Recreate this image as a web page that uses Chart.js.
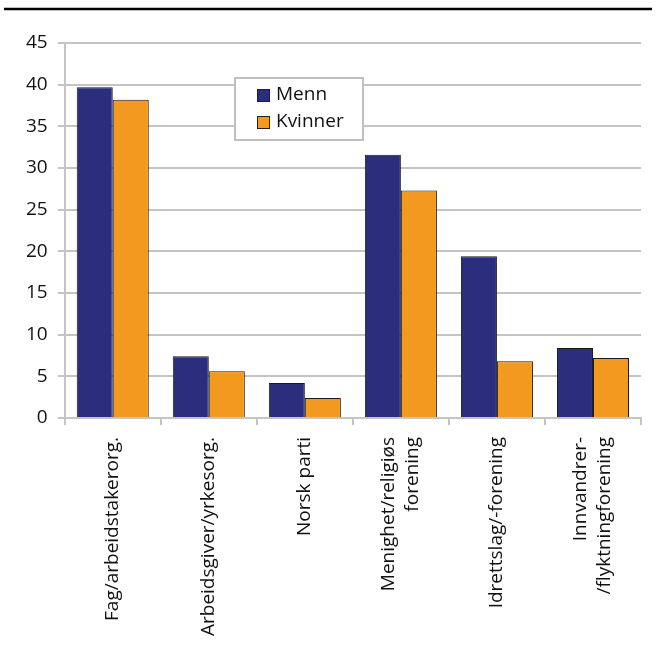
<!DOCTYPE html>
<html>
<head>
<meta charset="utf-8">
<script src="https://cdn.jsdelivr.net/npm/chart.js@4/dist/chart.umd.min.js"></script>
<style>
  html, body { margin: 0; padding: 0; background: #fff; }
  #wrap { width: 656px; height: 652px; position: relative; }
</style>
</head>
<body>
<div id="wrap"><canvas id="chart" width="656" height="652"></canvas></div>
<script>
// Data
const categories = [
  "Fag/arbeidstakerorg.",
  "Arbeidsgiver/yrkesorg.",
  "Norsk parti",
  ["Menighet/religiøs", "forening"],
  "Idrettslag/-forening",
  ["Innvandrer-", "/flyktningforening"],
];
const menn = [39.7, 7.4, 4.2, 31.6, 19.4, 8.4];
const kvinner = [38.2, 5.6, 2.4, 27.3, 6.8, 7.2];
const yTicks = [0, 5, 10, 15, 20, 25, 30, 35, 40, 45];

const FONT = "'Open Sans', 'DejaVu Sans', sans-serif";
const GRID = "#c4c4c4";
const X_FONT = 19;

// top rule across the figure
const topRule = {
  id: "topRule",
  afterDraw(chart) {
    const ctx = chart.ctx;
    ctx.save();
    ctx.strokeStyle = "#000";
    ctx.lineWidth = 2.5;
    ctx.beginPath();
    ctx.moveTo(4, 9);
    ctx.lineTo(652, 9);
    ctx.stroke();
    ctx.restore();
  },
};

// rotated category labels, multi-line ones centred on the tick
const xLabels = {
  id: "xLabels",
  afterDraw(chart) {
    const sx = chart.scales.x;
    const ctx = chart.ctx;
    const top = sx.top + 7 + 12;
    ctx.save();
    ctx.font = X_FONT + "px " + FONT;
    ctx.fillStyle = "#111";
    ctx.textAlign = "right";
    ctx.textBaseline = "middle";
    chart.data.labels.forEach((lab, i) => {
      const lines = Array.isArray(lab) ? lab : [lab];
      const x = sx.getPixelForTick(i);
      ctx.save();
      ctx.translate(x, top);
      ctx.rotate(-Math.PI / 2);
      lines.forEach((ln, j) => {
        ctx.fillText(ln, 0, (j - (lines.length - 1) / 2) * 24);
      });
      ctx.restore();
    });
    ctx.restore();
  },
};

// boxed legend sitting inside the plot
const boxLegend = {
  id: "boxLegend",
  afterDatasetsDraw(chart) {
    const ctx = chart.ctx;
    const x = 235, y = 78, w = 128, h = 62;
    ctx.save();
    ctx.fillStyle = "#fff";
    ctx.fillRect(x, y, w, h);
    ctx.strokeStyle = "#c0c0c0";
    ctx.lineWidth = 2;
    ctx.strokeRect(x, y, w, h);
    ctx.font = "19px " + FONT;
    ctx.textBaseline = "middle";
    chart.data.datasets.forEach((ds, i) => {
      const cy = y + 17 + i * 27;
      ctx.fillStyle = ds.backgroundColor;
      ctx.fillRect(x + 22, cy - 6, 13, 13);
      ctx.strokeStyle = "#222";
      ctx.lineWidth = 1;
      ctx.strokeRect(x + 22.5, cy - 5.5, 12, 12);
      ctx.fillStyle = "#111";
      ctx.fillText(ds.label, x + 41, cy);
    });
    ctx.restore();
  },
};

new Chart(document.getElementById("chart"), {
  type: "bar",
  data: {
    labels: categories,
    datasets: [
      { label: "Menn", data: menn, backgroundColor: "#2b2d7d", borderColor: "#1a1a1a", borderWidth: 1 },
      { label: "Kvinner", data: kvinner, backgroundColor: "#f4991f", borderColor: "#1a1a1a", borderWidth: 1 },
    ],
  },
  options: {
    responsive: false,
    animation: false,
    devicePixelRatio: 1,
    layout: { padding: { top: 43, right: 15, left: 16, bottom: 4 } },
    datasets: { bar: { categoryPercentage: 0.75, barPercentage: 1 } },
    plugins: {
      legend: { display: false },
      tooltip: { enabled: false },
    },
    scales: {
      x: {
        grid: { offset: true, drawOnChartArea: false, color: GRID, lineWidth: 2, tickLength: 7 },
        border: { color: GRID, width: 2 },
        ticks: {
          // space is reserved here, text itself is drawn by xLabels
          color: "rgba(0,0,0,0)",
          font: { family: FONT, size: X_FONT },
          maxRotation: 90,
          minRotation: 90,
          autoSkip: false,
          padding: 12,
        },
      },
      y: {
        min: 0,
        max: 45,
        afterBuildTicks: (axis) => { axis.ticks = yTicks.map((v) => ({ value: v })); },
        grid: { color: GRID, lineWidth: 2, tickLength: 7 },
        border: { color: GRID, width: 2 },
        ticks: {
          color: "#111",
          font: { family: FONT, size: 19 },
          padding: 10,
        },
      },
    },
  },
  plugins: [topRule, boxLegend, xLabels],
});
</script>
</body>
</html>
